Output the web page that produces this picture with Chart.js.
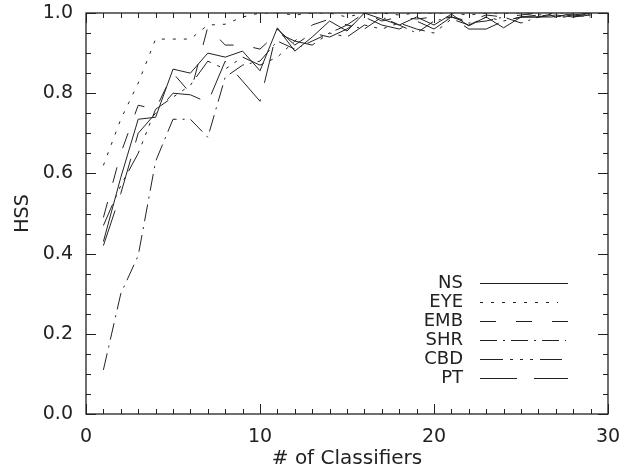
<!DOCTYPE html>
<html>
<head>
<meta charset="utf-8">
<script src="https://cdn.jsdelivr.net/npm/chart.js@4.4.1/dist/chart.umd.min.js"></script>
<style>
html,body{margin:0;padding:0;background:#fff;}
#wrap{width:624px;height:467px;}
</style>
</head>
<body>
<div id="wrap"><canvas id="c" width="624" height="467"></canvas></div>
<script>
const classifiers = [1,2,3,4,5,6,7,8,9,10,11,12,13,14,15,16,17,18,19,20,21,22,23,24,25,26,27,28,29];
const NS  = [0.43,0.59,0.735,0.74,0.86,0.85,0.90,0.89,0.905,0.856,0.963,0.905,0.94,0.98,0.955,1.0,0.985,0.97,0.99,0.97,0.997,0.968,0.99,0.963,0.99,0.99,0.995,0.99,1.0];
const EYE = [0.62,0.735,0.825,0.935,0.935,0.935,0.97,0.972,0.99,1.0,1.0,0.995,1.0,1.0,0.99,1.0,1.0,0.995,1.0,1.0,1.0,0.995,1.0,1.0,1.0,0.995,1.0,1.0,1.0];
const EMB = [0.49,0.65,0.77,0.76,0.85,0.80,0.965,0.92,0.92,0.91,0.95,0.93,0.97,0.985,0.97,1.0,0.98,0.99,0.985,0.99,0.99,0.98,0.995,0.99,0.995,1.0,0.99,1.0,0.995];
const SHR = [0.11,0.30,0.395,0.63,0.735,0.735,0.69,0.84,0.87,0.88,0.93,0.91,0.93,0.95,0.97,0.96,0.99,0.97,0.95,0.98,0.99,0.975,0.98,0.99,0.975,0.99,0.99,0.995,0.99];
const CBD = [0.47,0.57,0.65,0.76,0.79,0.82,0.88,0.86,0.89,0.87,0.89,0.93,0.92,0.95,0.94,0.97,0.96,0.975,0.96,0.95,0.985,0.97,0.99,0.98,0.99,0.995,0.99,0.99,0.995];
const PT  = [0.42,0.55,0.70,0.75,0.80,0.796,0.777,0.88,0.83,0.78,0.96,0.92,0.95,0.94,0.96,0.99,0.97,0.96,0.98,0.96,0.99,0.96,0.96,0.98,0.99,0.99,1.0,0.995,1.0];
const seriesNames = ["NS","EYE","EMB","SHR","CBD","PT"];
const seriesData = [NS,EYE,EMB,SHR,CBD,PT];
const dashes = [[],[3,8],[16,20],[17,6,2,6],[23,7,3,7,3,7,3,7],[37,17]];
const yTicks = [0,0.2,0.4,0.6,0.8,1.0];
const xTicks = [0,10,20,30];

const INK = '#222';
const FONT = 'DejaVu Sans';

const datasets = seriesNames.map((n,i)=>({
  label:n,
  data: classifiers.map((x,j)=>({x:x,y:seriesData[i][j]})),
  borderColor:INK, borderWidth:1, borderDash:dashes[i],
  pointRadius:0, tension:0, fill:false
}));

const framePlugin = {
  id:'frame',
  afterDraw(chart){
    const {ctx, chartArea:a, scales:{x,y}} = chart;
    ctx.save();
    ctx.strokeStyle=INK; ctx.lineWidth=1.3; ctx.setLineDash([]);
    ctx.strokeRect(a.left,a.top,a.right-a.left,a.bottom-a.top);
    ctx.lineWidth=1;
    ctx.beginPath();
    for(let v=0; v<=30; v++){
      const px = Math.round(x.getPixelForValue(v))+0.5;
      const len = (v%10===0)?10:5;
      ctx.moveTo(px,a.bottom); ctx.lineTo(px,a.bottom-len);
      ctx.moveTo(px,a.top); ctx.lineTo(px,a.top+len);
    }
    for(let i=0;i<=20;i++){
      const py = Math.round(y.getPixelForValue(i*0.05))+0.5;
      const len = (i%4===0)?10:5;
      ctx.moveTo(a.left,py); ctx.lineTo(a.left+len,py);
      ctx.moveTo(a.right,py); ctx.lineTo(a.right-len,py);
    }
    ctx.stroke();
    // legend
    ctx.font = '18px "'+FONT+'"';
    ctx.fillStyle=INK; ctx.textAlign='right'; ctx.textBaseline='middle';
    const ends=[568,558,568,566,562,568];
    chart.data.datasets.forEach((d,i)=>{
      const yy = 283 + i*19;
      ctx.fillText(d.label, 463, yy);
      ctx.setLineDash(d.borderDash);
      ctx.beginPath(); ctx.moveTo(480,yy+0.5); ctx.lineTo(ends[i],yy+0.5); ctx.stroke();
    });
    ctx.restore();
  }
};

new Chart(document.getElementById('c'),{
  type:'line',
  data:{datasets:datasets},
  options:{
    responsive:false, animation:false,
    layout:{padding:{top:13,right:16,left:0,bottom:0}},
    plugins:{legend:{display:false},tooltip:{enabled:false}},
    scales:{
      x:{type:'linear',min:0,max:30,
        afterBuildTicks:s=>{s.ticks=xTicks.map(v=>({value:v}));},
        afterFit:s=>{s.height=53; s.paddingLeft=0; s.paddingRight=0;},
        grid:{display:false,drawTicks:false},border:{display:false},
        ticks:{color:INK,font:{family:FONT,size:19},padding:12,maxRotation:0},
        title:{display:true,text:'# of Classifiers',color:INK,font:{family:FONT,size:20},padding:{top:0,bottom:-4}}
      },
      y:{min:0,max:1,
        afterBuildTicks:s=>{s.ticks=yTicks.map(v=>({value:v}));},
        afterFit:s=>{s.width=86; s.paddingTop=0; s.paddingBottom=0;},
        grid:{display:false,drawTicks:false},border:{display:false},
        ticks:{color:INK,font:{family:FONT,size:19},padding:13,callback:v=>Number(v).toFixed(1)},
        title:{display:true,text:'HSS',color:INK,font:{family:FONT,size:19},padding:{top:12,bottom:0}}
      }
    }
  },
  plugins:[framePlugin]
});
</script>
</body>
</html>
